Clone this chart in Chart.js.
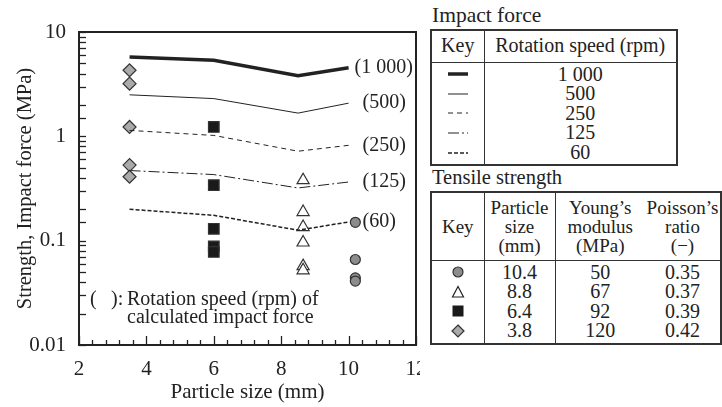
<!DOCTYPE html>
<html>
<head>
<meta charset="utf-8">
<script src="https://cdn.jsdelivr.net/npm/chart.js@4.4.1/dist/chart.umd.min.js"></script>
<style>
  body { margin: 0; background: #fff; }
  #wrap { position: relative; width: 722px; height: 407px; overflow: hidden;
          font-family: "Liberation Serif", "Times New Roman", serif; color: #222; }
  #chart { position: absolute; left: 0; top: 0; }
  .panel { position: absolute; left: 420px; top: 0; width: 302px; height: 407px; background: #fff; }
  .cap { position: absolute; left: 12px; font-size: 20.5px; line-height: 20px; white-space: nowrap; }
  table { position: absolute; left: 10px; border-collapse: collapse; table-layout: fixed;
          border: 2px solid #333; font-size: 20px; line-height: 19.6px; }
  td, th { padding: 0; text-align: center; font-weight: normal; vertical-align: middle; }
  th { border-bottom: 1.5px solid #333; }
  #strengthTable th { font-size: 19px; line-height: 19px; }
  .k { border-right: 1.5px solid #333; }
  .first td { padding-top: 2px; }
  .last td { padding-bottom: 2px; }
  svg { display: block; margin: 0 auto; }
</style>
</head>
<body>
<div id="wrap">
  <canvas id="chart" width="722" height="407"></canvas>
  <div class="panel">
    <div class="cap" style="top:5px; font-size:21.5px">Impact force</div>
    <table id="forceTable" style="top:29px; width:246px">
      <colgroup><col style="width:53px"><col style="width:193px"></colgroup>
      <thead><tr style="height:32px"><th class="k">Key</th><th>Rotation speed (rpm)</th></tr></thead>
      <tbody></tbody>
    </table>
    <div class="cap" style="top:167px">Tensile strength</div>
    <table id="strengthTable" style="top:191px; width:290px">
      <colgroup><col style="width:53px"><col style="width:71px"><col style="width:90px"><col style="width:76px"></colgroup>
      <thead><tr style="height:68px">
        <th class="k">Key</th>
        <th class="k">Particle<br>size<br>(mm)</th>
        <th>Young’s<br>modulus<br>(MPa)</th>
        <th>Poisson’s<br>ratio<br>(−)</th>
      </tr></thead>
      <tbody></tbody>
    </table>
  </div>
</div>
<script>
// impact force curves, one per rotation speed
const lineX = [3.5, 6.0, 8.5, 10.0];
const speeds = ['1 000', '500', '250', '125', '60'];
const force1000 = [5.75, 5.35, 3.8, 4.55];
const force500 = [2.5, 2.3, 1.67, 2.08];
const force250 = [1.14, 1.02, 0.72, 0.82];
const force125 = [0.47, 0.43, 0.32, 0.365];
const force60 = [0.2, 0.175, 0.126, 0.151];

// measured tensile strength
const particleSizes = [10.4, 8.8, 6.4, 3.8];
const youngs = [50, 67, 92, 120];
const poissons = ['0.35', '0.37', '0.39', '0.42'];
const plotX = [10.2, 8.65, 6.0, 3.5];
const strength104 = [0.15, 0.066, 0.044, 0.041];
const strength88 = [0.38, 0.188, 0.135, 0.096, 0.057, 0.052];
const strength64 = [1.23, 0.34, 0.13, 0.088, 0.078];
const strength38 = [4.3, 3.2, 1.23, 0.53, 0.41];

const yTickLabels = ['0.01', '0.1', '1', '10'];

const ink = '#222';
const lineStyles = [
  { width: 3.5, dash: [] },
  { width: 1, dash: [] },
  { width: 1, dash: [5, 4] },
  { width: 1, dash: [11, 3, 2, 3] },
  { width: 1.5, dash: [4, 2] },
];
const markers = [
  { style: 'circle', radius: 5, fill: '#8c8c8c' },
  { style: 'triangle', radius: 7, fill: '#fff' },
  { style: 'rect', radius: 7.5, fill: '#1a1a1a' },
  { style: 'rectRot', radius: 6.5, fill: '#aaa' },
];

const forces = [force1000, force500, force250, force125, force60];
const strengths = [strength104, strength88, strength64, strength38];

const lineSets = forces.map((f, i) => ({
  label: speeds[i] + ' rpm',
  data: f.map((v, j) => ({ x: lineX[j], y: v })),
  showLine: true,
  borderColor: ink,
  borderWidth: lineStyles[i].width,
  borderDash: lineStyles[i].dash,
  pointRadius: 0,
}));

const pointSets = strengths.map((s, i) => ({
  label: particleSizes[i] + ' mm',
  data: s.map(v => ({ x: plotX[i], y: v })),
  showLine: false,
  pointStyle: markers[i].style,
  pointRadius: markers[i].radius,
  backgroundColor: markers[i].fill,
  borderColor: '#333',
  borderWidth: 1.2,
}));

const serif = '"Liberation Serif", "Times New Roman", serif';

// frame, inward ticks and text notes
const frameAndNotes = {
  id: 'frameAndNotes',
  afterDatasetsDraw(chart) {
    const { ctx, chartArea: a, scales: { x, y } } = chart;
    ctx.save();
    ctx.strokeStyle = ink;
    ctx.lineWidth = 1.3;
    y.ticks.forEach(t => {
      const py = Math.round(y.getPixelForValue(t.value)) + 0.5;
      ctx.beginPath(); ctx.moveTo(a.left, py); ctx.lineTo(a.left + 7, py); ctx.stroke();
    });
    x.ticks.forEach(t => {
      const px = Math.round(x.getPixelForValue(t.value)) + 0.5;
      const len = t.label ? 9 : 5;
      ctx.beginPath(); ctx.moveTo(px, a.bottom); ctx.lineTo(px, a.bottom - len); ctx.stroke();
    });
    ctx.lineWidth = 2;
    ctx.strokeRect(a.left, a.top, a.right - a.left, a.bottom - a.top);

    ctx.fillStyle = ink;
    ctx.font = '20px ' + serif;
    ctx.textBaseline = 'middle';
    const endX = x.getPixelForValue(lineX[lineX.length - 1]);
    forces.forEach((f, i) => {
      const py = y.getPixelForValue(f[f.length - 1]);
      ctx.fillText('(' + speeds[i] + ')', endX + (i === 0 ? 6 : 14), py);
    });
    ctx.fillText('(', a.left + 11, a.bottom - 45);
    ctx.fillText('):', a.left + 32, a.bottom - 45);
    ctx.fillText('Rotation speed (rpm) of', a.left + 48, a.bottom - 45);
    ctx.fillText('calculated impact force', a.left + 48, a.bottom - 27);
    ctx.restore();
  }
};

new Chart(document.getElementById('chart'), {
  type: 'scatter',
  data: { datasets: [...lineSets, ...pointSets] },
  options: {
    responsive: false,
    animation: false,
    layout: { padding: { top: 32, right: 306, left: 0, bottom: 0 } },
    plugins: { legend: { display: false }, tooltip: { enabled: false } },
    scales: {
      x: {
        type: 'linear', min: 2, max: 12,
        grid: { display: false }, border: { display: false },
        ticks: {
          stepSize: 0.4, autoSkip: false, maxRotation: 0, padding: 4,
          color: ink, font: { family: serif, size: 21 },
          callback: v => {
            const r = Math.round(v);
            return Math.abs(v - r) < 1e-6 && r % 2 === 0 ? String(r) : '';
          },
        },
        title: { display: true, text: 'Particle size (mm)', color: ink,
                 font: { family: serif, size: 21 }, padding: { top: 0, bottom: 2 } },
        afterFit: s => { s.height = 62; },
      },
      y: {
        type: 'logarithmic', min: 0.01, max: 10,
        grid: { display: false }, border: { display: false },
        ticks: {
          autoSkip: false, padding: 5, color: ink, font: { family: serif, size: 21 },
          callback: v => {
            const e = Math.log10(v);
            const r = Math.round(e);
            return Math.abs(e - r) < 1e-6 ? yTickLabels[r + 2] : '';
          },
        },
        title: { display: true, text: 'Strength, Impact force (MPa)', color: ink,
                 font: { family: serif, size: 20.5 }, padding: { top: 13, bottom: 0 } },
        afterFit: s => { s.width = 79; },
      },
    },
  },
  plugins: [frameAndNotes],
});

// legend tables
function keySvg(html, w, h) {
  return '<svg width="' + w + '" height="' + h + '">' + html + '</svg>';
}

const forceBody = document.querySelector('#forceTable tbody');
speeds.forEach((s, i) => {
  const st = lineStyles[i];
  const dash = st.dash.length ? ' stroke-dasharray="' + st.dash.join(' ') + '"' : '';
  const key = keySvg('<line x1="0" y1="5" x2="20" y2="5" stroke="' + ink + '" stroke-width="' +
    st.width + '"' + dash + '/>', 20, 10);
  const tr = document.createElement('tr');
  if (i === 0) tr.className = 'first';
  if (i === speeds.length - 1) tr.className = 'last';
  tr.innerHTML = '<td class="k">' + key + '</td><td>' + s + '</td>';
  forceBody.appendChild(tr);
});

const symbolSvg = [
  '<circle cx="7" cy="7" r="5" fill="#8c8c8c" stroke="#333" stroke-width="1.2"/>',
  '<polygon points="7,1.5 12.5,12 1.5,12" fill="#fff" stroke="#222" stroke-width="1.2"/>',
  '<rect x="1.5" y="1.5" width="11" height="11" fill="#1a1a1a"/>',
  '<polygon points="7,1 13,7 7,13 1,7" fill="#aaa" stroke="#333" stroke-width="1.2"/>',
];
const strengthBody = document.querySelector('#strengthTable tbody');
particleSizes.forEach((p, i) => {
  const tr = document.createElement('tr');
  if (i === 0) tr.className = 'first';
  if (i === particleSizes.length - 1) tr.className = 'last';
  tr.innerHTML = '<td class="k">' + keySvg(symbolSvg[i], 14, 14) + '</td><td class="k">' +
    p.toFixed(1) + '</td><td>' + youngs[i] + '</td><td>' + poissons[i] + '</td>';
  strengthBody.appendChild(tr);
});
</script>
</body>
</html>
